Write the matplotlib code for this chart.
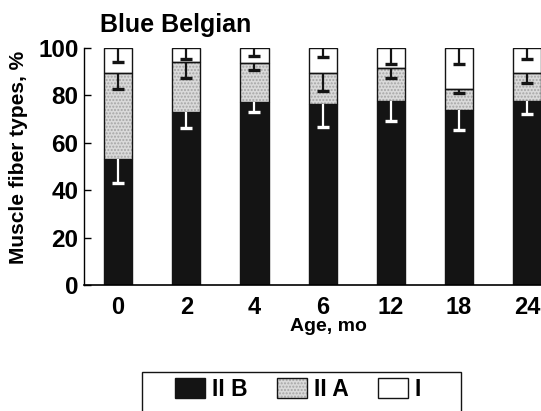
import matplotlib
matplotlib.use("Agg")
import matplotlib.pyplot as plt
from matplotlib.patches import Patch, Rectangle
import numpy as np

plt.rcParams['font.family'] = ['Liberation Sans', 'DejaVu Sans']
plt.rcParams['font.weight'] = 'bold'

ages = ["0", "2", "4", "6", "12", "18", "24"]
iib = [53.1, 72.9, 77.2, 76.4, 77.8, 73.9, 77.6]
iia = [36.4, 21.0, 16.5, 13.1, 13.9, 8.9, 11.8]
type_i = [10.5, 6.1, 6.3, 10.5, 8.3, 17.2, 10.6]
iib_err = [10.0, 6.6, 4.3, 9.6, 8.4, 8.4, 5.3]
iia_err = [7.0, 6.4, 3.0, 7.6, 4.3, 1.8, 4.1]
i_err = [5.7, 4.5, 3.5, 3.9, 6.7, 6.7, 4.8]

W, H = 541, 411
fig = plt.figure(figsize=(W / 100, H / 100), dpi=100)
ax = fig.add_axes([84 / W, 1 - 285 / H, 477.4 / W, 237 / H])

x = np.arange(len(ages))
bw = 0.415
iib_a = np.array(iib)
iia_a = np.array(iia)
i_a = np.array(type_i)

black = '#141414'
ax.bar(x, iib_a, bw, color=black, edgecolor=black, lw=1, zorder=2)
ax.bar(x, iia_a, bw, bottom=iib_a, color='#dadada', edgecolor='#a5a5a5',
       hatch='.....', lw=0, zorder=2)
ax.bar(x, iia_a, bw, bottom=iib_a, facecolor='none', edgecolor=black, lw=1, zorder=3)
ax.bar(x, i_a, bw, bottom=iib_a + iia_a, color='white', edgecolor=black, lw=1, zorder=2)


def err(tops, e, color):
    tops = np.asarray(tops)
    e = np.asarray(e)
    ax.vlines(x, tops - e, tops, colors=color, lw=1.6, zorder=4)
    ax.plot(x, tops - e, linestyle='none', marker='_', markersize=9,
            mew=2.4, color=color, zorder=4)


err(iib_a, iib_err, 'white')
err(iib_a + iia_a, iia_err, black)
err(iib_a + iia_a + i_a, i_err, black)

ax.set_xlim(-0.5, 6.5)
ax.set_ylim(0, 100)
ax.set_yticks([0, 20, 40, 60, 80, 100])
ax.set_xticks(x)
ax.set_xticklabels(ages)
ax.tick_params(axis='y', direction='in', length=5, width=1, labelsize=17.5, pad=4)
ax.tick_params(axis='x', length=0, labelsize=17, pad=8)
for s in ['top', 'right']:
    ax.spines[s].set_visible(False)
ax.spines['left'].set_linewidth(1)
ax.spines['bottom'].set_linewidth(1.2)

ax.set_ylabel('Muscle fiber types, %', fontsize=15, fontweight='bold')
ax.yaxis.set_label_coords(-0.117, 0.54)
ax.set_xlabel('Age, mo', fontsize=14, fontweight='bold')
ax.xaxis.set_label_coords(0.513, -0.138)

fig.text(100 / W, 1 - 25 / H, 'Blue Belgian', fontsize=18, fontweight='bold',
         ha='left', va='center')

# legend
h1 = Patch(facecolor=black, edgecolor=black, lw=1)
h2 = (Patch(facecolor='#dadada', edgecolor='#a5a5a5', hatch='.....', lw=0),
      Patch(facecolor='none', edgecolor=black, lw=1))
h3 = Patch(facecolor='white', edgecolor=black, lw=1)
leg = fig.legend([h1, h2, h3], ['II B', 'II A', 'I'], loc='center',
                 bbox_to_anchor=(298 / W, 1 - 389.5 / H), ncol=3, frameon=False,
                 fontsize=16.5, handlelength=1.3, handleheight=0.95,
                 handletextpad=0.3, columnspacing=1.3, borderpad=0)
fig.patches.append(Rectangle((141.7 / W, -0.05), 319 / W, (411 - 371.7) / H + 0.05,
                             transform=fig.transFigure, fill=False, lw=1,
                             edgecolor=black))

fig.savefig('out.png', dpi=100)
